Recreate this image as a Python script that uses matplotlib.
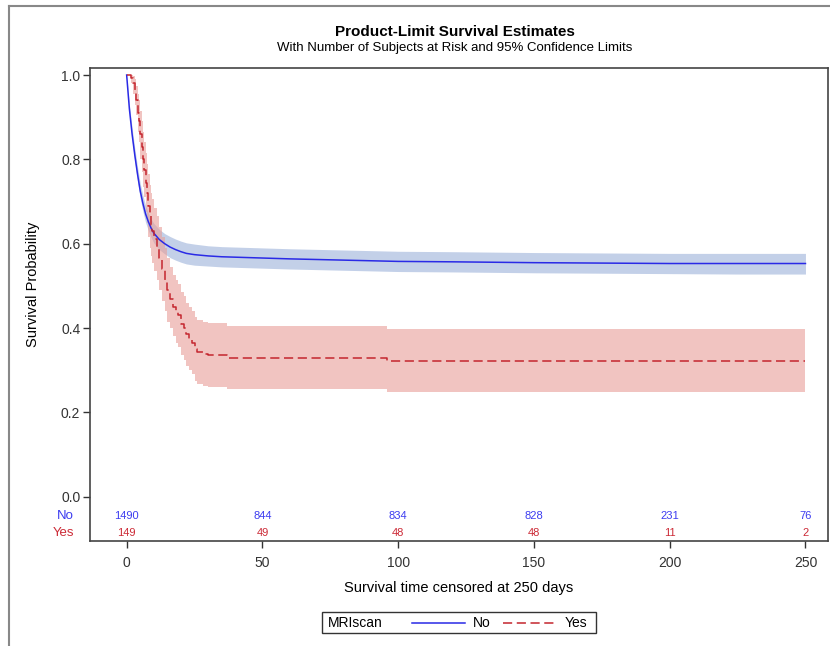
import numpy as np
import matplotlib.pyplot as plt
from matplotlib.lines import Line2D
from matplotlib.patches import Rectangle

plt.rcParams['font.family'] = ['Liberation Sans', 'DejaVu Sans']

# Kaplan-Meier estimates
# "No" group has so many small steps that it looks smooth
no_time = [0, 1, 2, 3, 4, 5, 6, 7, 8, 9, 10, 12, 14, 16, 18, 20, 22, 25, 30,
           35, 40, 50, 60, 80, 100, 120, 150, 175, 200, 225, 250]
no_surv = [1.0, 0.92, 0.86, 0.81, 0.765, 0.725, 0.695, 0.67, 0.652, 0.637,
           0.625, 0.61, 0.6, 0.592, 0.586, 0.581, 0.577, 0.574, 0.571, 0.569,
           0.568, 0.566, 0.564, 0.561, 0.558, 0.557, 0.555, 0.554, 0.553,
           0.553, 0.553]
no_upper = [1.0, 0.93, 0.875, 0.826, 0.782, 0.743, 0.714, 0.69, 0.673, 0.659,
            0.648, 0.634, 0.624, 0.617, 0.611, 0.606, 0.602, 0.599, 0.595,
            0.593, 0.592, 0.59, 0.588, 0.585, 0.582, 0.581, 0.579, 0.578,
            0.577, 0.577, 0.577]
no_lower = [1.0, 0.91, 0.845, 0.794, 0.748, 0.707, 0.676, 0.65, 0.631, 0.615,
            0.602, 0.586, 0.576, 0.567, 0.561, 0.556, 0.552, 0.549, 0.547,
            0.545, 0.544, 0.542, 0.54, 0.537, 0.534, 0.533, 0.531, 0.53,
            0.529, 0.528, 0.528]

yes_time = [0, 1.5, 2.5, 3, 3.5, 4, 4.5, 5, 5.5, 6, 6.5, 7, 7.5, 8, 8.5, 9,
            9.5, 10, 11, 12, 13, 14, 15, 16, 17, 18, 19, 20, 21, 22, 23, 24,
            25, 26, 28, 30, 37, 96, 250]
yes_surv = [1.0, 0.993, 0.98, 0.96, 0.94, 0.91, 0.89, 0.86, 0.83, 0.80, 0.775,
            0.745, 0.72, 0.69, 0.665, 0.645, 0.63, 0.61, 0.59, 0.565, 0.54,
            0.515, 0.49, 0.47, 0.45, 0.44, 0.43, 0.41, 0.40, 0.385, 0.375,
            0.365, 0.35, 0.342, 0.338, 0.335, 0.33, 0.322, 0.322]
yes_upper = [1.0, 1.0, 0.998, 0.99, 0.975, 0.955, 0.94, 0.915, 0.89, 0.865,
             0.84, 0.815, 0.79, 0.765, 0.74, 0.72, 0.705, 0.685, 0.665, 0.64,
             0.615, 0.59, 0.565, 0.545, 0.525, 0.515, 0.505, 0.485, 0.475,
             0.46, 0.45, 0.44, 0.425, 0.418, 0.414, 0.411, 0.405, 0.398, 0.398]
yes_lower = [1.0, 0.98, 0.955, 0.93, 0.905, 0.865, 0.84, 0.80, 0.77, 0.735,
             0.71, 0.675, 0.65, 0.615, 0.59, 0.57, 0.555, 0.535, 0.515, 0.49,
             0.465, 0.44, 0.415, 0.40, 0.38, 0.365, 0.355, 0.335, 0.325, 0.31,
             0.30, 0.29, 0.275, 0.268, 0.262, 0.259, 0.255, 0.248, 0.248]

# number at risk
risk_times = [0, 50, 100, 150, 200, 250]
risk_no = [1490, 844, 834, 828, 231, 76]
risk_yes = [149, 49, 48, 48, 11, 2]

blue = '#2a2ae6'
red = '#c4262e'

fig = plt.figure(figsize=(8.3, 6.46), dpi=100)
ax = fig.add_axes([90 / 830, 1 - 541 / 646, 738 / 830, 473 / 646])

ax.fill_between(no_time, no_lower, no_upper,
                color='#9bb1da', alpha=0.6, linewidth=0)
ax.fill_between(yes_time, yes_lower, yes_upper, step='post',
                color='#e99e98', alpha=0.6, linewidth=0)
ax.plot(no_time, no_surv, color=blue, linewidth=1.1)
ax.step(yes_time, yes_surv, where='post', color=red, linewidth=1.1,
        dashes=(6, 3))

# at-risk table inside the plot area
for t, n in zip(risk_times, risk_no):
    ax.text(t, -0.046, str(n), color='#3c3cf0', fontsize=8,
            ha='center', va='center')
for t, n in zip(risk_times, risk_yes):
    ax.text(t, -0.087, str(n), color='#cc2a36', fontsize=8,
            ha='center', va='center')
ax.text(-0.022, -0.046, 'No', color='#3c3cf0', fontsize=9.5, ha='right',
        va='center', transform=ax.get_yaxis_transform())
ax.text(-0.022, -0.087, 'Yes', color='#cc2a36', fontsize=9.5, ha='right',
        va='center', transform=ax.get_yaxis_transform())

ax.set_xlim(-13.5, 258.3)
ax.set_ylim(-0.105, 1.0166)
ax.set_xticks(risk_times)
ax.set_yticks([0, 0.2, 0.4, 0.6, 0.8, 1.0])
ax.set_yticklabels(['0.0', '0.2', '0.4', '0.6', '0.8', '1.0'])
ax.tick_params(direction='out', length=5, width=1, colors='#333333',
               labelsize=10, pad=2)
ax.tick_params(axis='x', pad=6)
for s in ax.spines.values():
    s.set_color('#444444')
    s.set_linewidth(1.2)

fig.text(33 / 830, 1 - 284 / 646, 'Survival Probability', rotation=90,
         ha='center', va='center', fontsize=10.5)
fig.text(459 / 830, 1 - 588 / 646, 'Survival time censored at 250 days',
         ha='center', va='center', fontsize=10.5)

fig.text(455 / 830, 1 - 32 / 646, 'Product-Limit Survival Estimates',
         ha='center', va='center', fontsize=11, fontweight='bold')
fig.text(455 / 830, 1 - 48 / 646,
         'With Number of Subjects at Risk and 95% Confidence Limits',
         ha='center', va='center', fontsize=9.5)

# legend drawn by hand to mimic the SAS box
fig.add_artist(Rectangle((322 / 830, 1 - 633 / 646), 274 / 830, 21 / 646,
                         transform=fig.transFigure, fill=False,
                         edgecolor='#333333', linewidth=1))
fig.text(328 / 830, 1 - 623 / 646, 'MRIscan', ha='left', va='center',
         fontsize=10)
fig.add_artist(Line2D([412 / 830, 465 / 830], [1 - 623 / 646] * 2,
                      color=blue, linewidth=1.1))
fig.text(473 / 830, 1 - 623 / 646, 'No', ha='left', va='center', fontsize=10)
fig.add_artist(Line2D([503 / 830, 557 / 830], [1 - 623 / 646] * 2,
                      color=red, linewidth=1.1, dashes=(6, 3)))
fig.text(565 / 830, 1 - 623 / 646, 'Yes', ha='left', va='center',
         fontsize=10)

# outer frame lines
fig.add_artist(Line2D([9 / 830, 1], [1 - 6 / 646] * 2, color='#888888',
                      linewidth=1.5))
fig.add_artist(Line2D([9 / 830, 9 / 830], [0, 1 - 6 / 646], color='#888888',
                      linewidth=1.5))

fig.savefig('out.png', dpi=100)
